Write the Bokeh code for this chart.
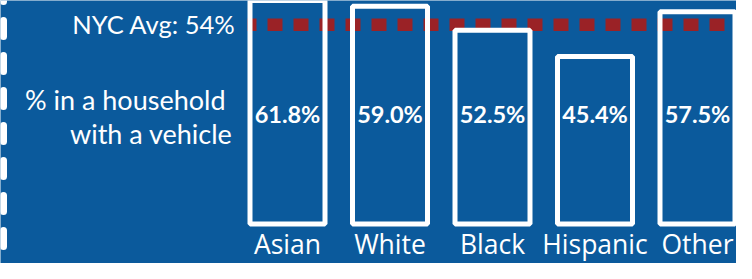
from bokeh.plotting import figure
from bokeh.models import Range1d, ColumnDataSource
from bokeh.core.properties import value
from bokeh.embed import file_html
from bokeh.resources import INLINE

# ---------------- data ----------------
categories = ["Asian", "White", "Black", "Hispanic", "Other"]
pct_with_vehicle = [61.8, 59.0, 52.5, 45.4, 57.5]
value_labels = ["61.8%", "59.0%", "52.5%", "45.4%", "57.5%"]
nyc_avg = 54
nyc_avg_label = "NYC Avg: 54%"
title_lines = ["% in a household", "with a vehicle"]

# ---------------- layout / style (figure pixels) ----------------
W, H = 736, 263

BAR_PX0, BAR_PITCH = 287.0, 102.5   # px of first bar centre, spacing
ZERO_PY, PX_PER_PCT = 223.5, 3.69   # px of 0 %, px per percent
BASE_FIX = 0.47                     # em correction for svg text baseline


def px2x(px):
    return (px - BAR_PX0) / BAR_PITCH


def py2y(py):
    return (ZERO_PY - py) / PX_PER_PCT


BG = "#0b5a9c"
RED = "#9a2226"
WHITE = "#ffffff"

p = figure(width=W, height=H, output_backend="svg", toolbar_location=None,
           x_range=Range1d(px2x(0), px2x(W)),
           y_range=Range1d(py2y(H), py2y(0)),
           x_axis_location=None, y_axis_location=None,
           min_border=0)
p.background_fill_color = BG
p.border_fill_color = BG
p.outline_line_color = None
p.xgrid.visible = False
p.ygrid.visible = False

idx = list(range(len(categories)))
src = ColumnDataSource(dict(x=idx, cat=categories, val=pct_with_vehicle,
                            lab=value_labels))

BAR_W = 75 / BAR_PITCH

# left decorative dashed border
p.line(x=[px2x(3), px2x(3)], y=[py2y(0), py2y(H)], line_color=WHITE,
       line_width=7, line_dash="16 19", line_dash_offset=15, line_cap="round")

# NYC average dashed line (starts at the first bar's outer edge)
p.line(x=[-BAR_W / 2 - 2.5 / BAR_PITCH, px2x(W + 20)], y=[nyc_avg, nyc_avg],
       line_color=RED, line_width=12.5, line_dash="15 11",
       line_dash_offset=6)

# bars (outlined)
p.vbar(x="x", top="val", bottom=0, width=BAR_W, source=src, fill_alpha=0,
       line_color=WHITE, line_width=5)


def fix(fs):
    return -BASE_FIX * fs


# value labels
FS_VAL = 23.5
p.text(x="x", y=py2y(124.5), text="lab", source=src, text_align="center",
       text_baseline="alphabetic", text_color=WHITE, y_offset=fix(FS_VAL),
       text_font=value("Lato"), text_font_style="bold",
       text_font_size=value(f"{FS_VAL}px"))

# category labels
FS_CAT = 26.5
p.text(x="x", y=py2y(255.5), text="cat", source=src, text_align="center",
       text_baseline="alphabetic", text_color=WHITE, y_offset=fix(FS_CAT),
       text_font=value("Open Sans"), text_font_size=value(f"{FS_CAT}px"))

# NYC avg text
FS_AVG = 25.5
p.text(x=[px2x(235)], y=[nyc_avg], text=[nyc_avg_label],
       y_offset=11.5 + fix(FS_AVG),
       text_align="right", text_baseline="alphabetic", text_color=WHITE,
       text_font=value("Lato"), text_font_size=value(f"{FS_AVG}px"))

# side title
FS_TTL = 27
p.text(x=[px2x(225), px2x(232)], y=[py2y(111.3), py2y(145.2)],
       text=title_lines, text_align="right", text_baseline="alphabetic",
       y_offset=fix(FS_TTL), text_color=WHITE, text_font=value("Lato"),
       text_font_size=value(f"{FS_TTL}px"))

open("out.html", "w").write(file_html(p, INLINE))
